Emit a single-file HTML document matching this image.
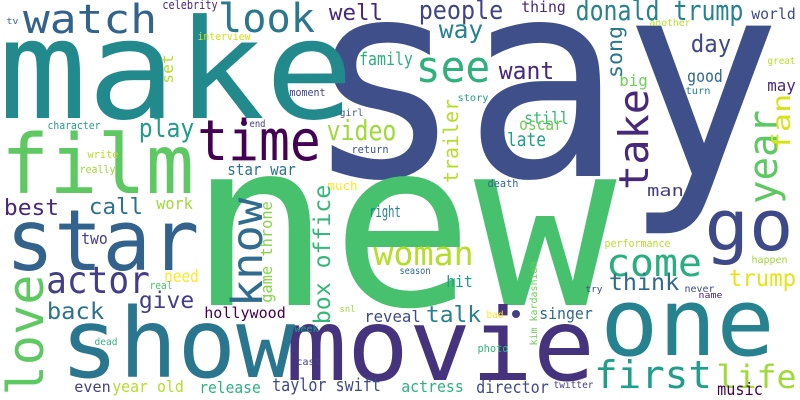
<!DOCTYPE html>
<html><head><meta charset="utf-8"><style>
html,body{margin:0;padding:0;background:#fff;}
svg{display:block;}
text{font-family:"DejaVu Sans Mono","Liberation Mono",monospace;}
</style></head><body>
<svg width="800" height="400" viewBox="0 0 800 400" id="cloud">
<rect width="800" height="400" fill="#fff"/>
<circle cx="244" cy="123" r="3" fill="#440154"/>
<circle cx="516" cy="314" r="4" fill="#433e85"/>
</svg>
<script>
// [word, left, baseline, fontSize, inkWidth, color, rotated]
const words = [
["say",318,176,275,450,"#3e4f8a",0],
["new",200,305,230,405,"#47c16e",0],
["make",5,118,138,342,"#228a8d",0],
["movie",290,380,100,300,"#46337e",0],
["show",65,377,96,225,"#2a768e",0],
["one",605,355,94,165,"#26828e",0],
["star",10,270,85,185,"#33638d",0],
["film",5,193,82,185,"#5ec962",0],
["go",708,250,70,82,"#3e4989",0],
["time",200,160,56,118,"#440154",0],
["watch",25,33,40,130,"#33638d",0],
["look",220,32,40,93,"#2a788e",0],
["see",418,82,44,70,"#2db27d",0],
["come",608,276,38,92,"#29af7f",0],
["first",596,388,38,114,"#1f9e89",0],
["actor",48,293,37,100,"#433e85",0],
["woman",375,265,33,97,"#b5de2b",0],
["life",718,388,32,77,"#a0da39",0],
["donald trump",577,20,28,165,"#26828e",0],
["video",328,140,28,67,"#a0da39",0],
["people",420,19,26,82,"#414487",0],
["play",140,137,26,53,"#1f9e89",0],
["way",440,38,25,42,"#26828e",0],
["want",500,79,24,53,"#482878",0],
["day",692,52,24,38,"#3e4989",0],
["back",48,319,23,55,"#2c728e",0],
["give",140,308,23,53,"#433e85",0],
["think",610,290,23,68,"#31688e",0],
["trump",730,286,23,65,"#e5e419",0],
["best",5,215,22,53,"#482878",0],
["call",90,214,22,52,"#2c728e",0],
["talk",427,322,22,53,"#26828e",0],
["well",330,20,22,52,"#482878",0],
["late",508,146,19,37,"#1f9e89",0],
["family",360,65,18,52,"#2ab07f",0],
["taylor swift",273,391,18,107,"#3e4989",0],
["still",525,124,17,43,"#35b779",0],
["oscar",520,130,17,42,"#6ece58",0],
["director",477,393,17,71,"#3e4989",0],
["music",718,395,17,44,"#440154",0],
["good",688,82,17,34,"#31688e",0],
["need",165,282,17,33,"#fde725",0],
["star war",228,175,16,67,"#2c728e",0],
["big",620,86,16,27,"#6ece58",0],
["may",768,91,16,27,"#482878",0],
["man",648,196,16,35,"#433e85",0],
["work",157,209,16,35,"#a0da39",0],
["right",370,217,16,30,"#26828e",0],
["two",82,244,16,25,"#433e85",0],
["reveal",365,322,16,55,"#3e4989",0],
["hit",447,287,16,25,"#1f9e89",0],
["singer",540,319,16,52,"#31688e",0],
["year old",113,392,16,70,"#b5de2b",0],
["release",200,393,16,60,"#2db27d",0],
["actress",402,392,16,61,"#2db27d",0],
["hollywood",205,318,15,80,"#440154",0],
["even",75,392,15,35,"#433e85",0],
["thing",522,12,15,43,"#482878",0],
["world",752,19,15,43,"#3e4989",0],
["celebrity",163,9,12,54,"#482878",0],
["much",328,190,12,29,"#fde725",0],
["interview",198,40,11,52,"#d0e11c",0],
["moment",290,96,11,35,"#414487",0],
["character",48,129,11,52,"#20a386",0],
["write",88,158,11,30,"#b5de2b",0],
["really",80,173,11,35,"#a0da39",0],
["return",352,153,11,36,"#3b528b",0],
["death",488,187,11,30,"#31688e",0],
["real",150,289,11,22,"#4ac16d",0],
["photo",478,352,11,30,"#35b779",0],
["performance",605,247,11,65,"#b5de2b",0],
["girl",340,116,10,23,"#46598c",0],
["end",250,127,10,15,"#433e85",0],
["another",650,26,10,40,"#b5de2b",0],
["great",768,64,10,27,"#b5de2b",0],
["turn",686,94,10,24,"#26828e",0],
["story",458,101,10,30,"#23a083",0],
["dead",95,345,10,22,"#35b779",0],
["week",295,332,10,23,"#1f9e89",0],
["cast",297,365,10,23,"#433e85",0],
["season",400,274,10,30,"#31688e",0],
["bad",487,318,10,16,"#fde725",0],
["twitter",554,388,10,39,"#433e85",0],
["happen",752,263,10,35,"#a0da39",0],
["never",685,292,10,29,"#3e4989",0],
["name",699,298,9,23,"#482878",0],
["tv",7,24,9,11,"#31688e",0],
["snl",340,312,9,15,"#a0da39",0],
["try",586,292,9,16,"#3e4989",0],
// rotated: left=baseline x, baseline=start y (bottom), inkWidth = length
["love",43,393,50,116,"#5ec962",1],
["take",648,188,41,97,"#482878",1],
["know",262,305,43,105,"#2f6c8e",1],
["year",777,202,40,90,"#5ec962",1],
["fan",790,150,25,55,"#d8e219",1],
["box office",330,323,23,137,"#35b779",1],
["song",622,77,21,50,"#2a788e",1],
["trailer",458,182,20,82,"#b5de2b",1],
["game throne",272,302,16,100,"#86d549",1],
["set",173,83,16,28,"#b5de2b",1],
["kim kardashian",537,345,10,83,"#6ece58",1]
];
const NS = "http://www.w3.org/2000/svg";
const svg = document.getElementById("cloud");
words.forEach(w => {
  const [txt, x, y, fs, wd, col, rot] = w;
  const t = document.createElementNS(NS, "text");
  const pad = 0.05 * fs;
  t.setAttribute("font-size", fs);
  t.setAttribute("fill", col);
  t.setAttribute("textLength", wd + 2 * pad);
  t.setAttribute("lengthAdjust", "spacingAndGlyphs");
  if (rot) {
    t.setAttribute("x", 0);
    t.setAttribute("y", 0);
    t.setAttribute("transform", "translate(" + x + "," + (y + pad) + ") rotate(-90)");
  } else {
    t.setAttribute("x", x - pad);
    t.setAttribute("y", y);
  }
  t.textContent = txt;
  
  
  svg.appendChild(t);
});
</script>
</body></html>
